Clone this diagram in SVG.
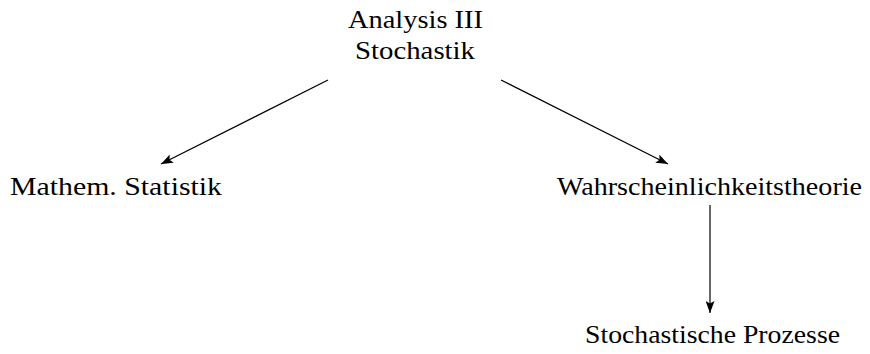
<svg xmlns="http://www.w3.org/2000/svg" width="870" height="354" viewBox="0 0 870 354">
<defs>
<style>
text{font-family:"Liberation Serif","Times New Roman",serif;font-size:26px;fill:#000;text-anchor:middle}
.edge{stroke:#000;stroke-width:1.2;fill:none}
</style>
<marker id="ah" viewBox="0 0 12 9" refX="12" refY="4.5" markerWidth="12" markerHeight="9" markerUnits="userSpaceOnUse" orient="auto">
<path d="M0,0 L12,4.5 L0,9 L2.5,4.5 Z" fill="#000"/>
</marker>
</defs>
<rect width="870" height="354" fill="#fff"/>
<g id="connectors">
<line class="edge" x1="328" y1="80" x2="161" y2="164" marker-end="url(#ah)"/>
<line class="edge" x1="501" y1="80" x2="668" y2="164" marker-end="url(#ah)"/>
<line class="edge" x1="710" y1="205" x2="710" y2="313" marker-end="url(#ah)"/>
</g>
<g id="n_analysis">
<text x="415.5" y="28" textLength="135" lengthAdjust="spacingAndGlyphs">Analysis III</text>
<text x="415" y="59" textLength="120" lengthAdjust="spacingAndGlyphs">Stochastik</text>
</g>
<g id="n_statistik">
<text x="116" y="195" textLength="212" lengthAdjust="spacingAndGlyphs">Mathem. Statistik</text>
</g>
<g id="n_wahrscheinlichkeit">
<text x="709.5" y="195" textLength="305" lengthAdjust="spacingAndGlyphs">Wahrscheinlichkeitstheorie</text>
</g>
<g id="n_prozesse">
<text x="712.5" y="343" textLength="255" lengthAdjust="spacingAndGlyphs">Stochastische Prozesse</text>
</g>
</svg>
